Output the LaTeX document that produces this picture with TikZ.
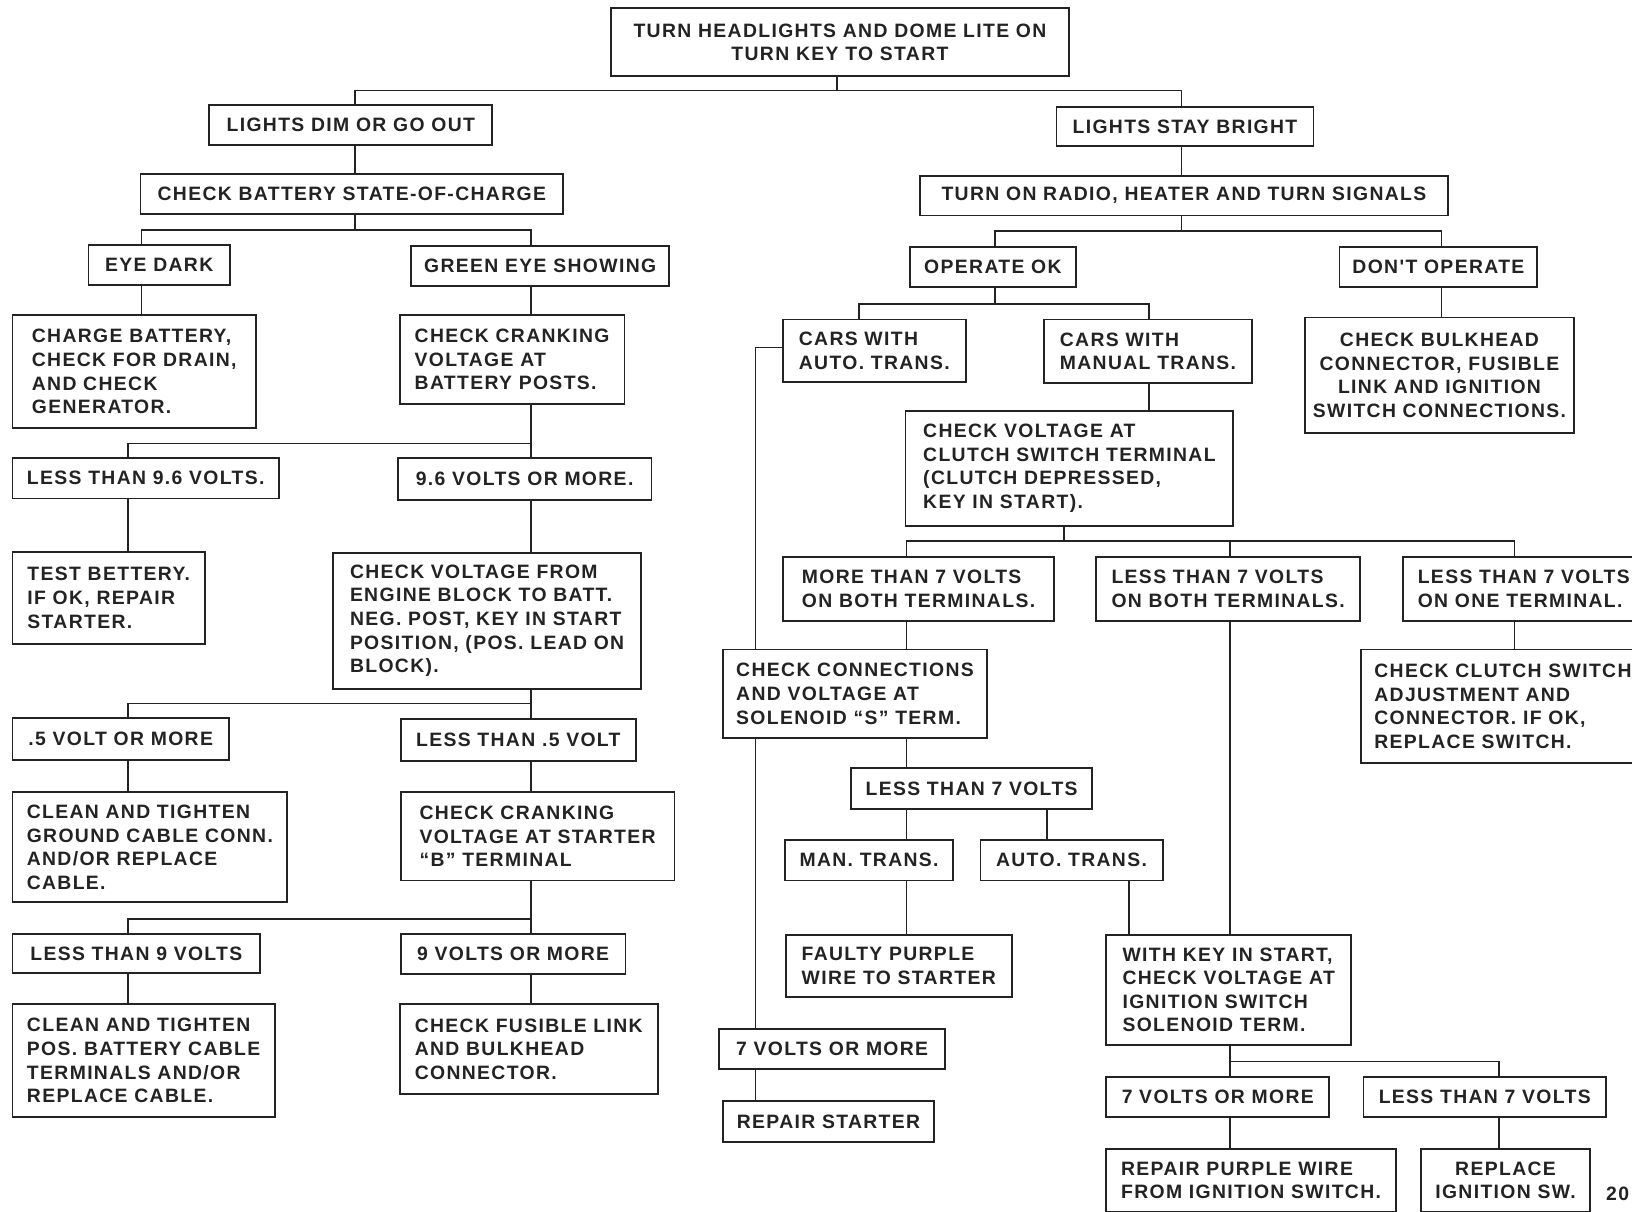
\documentclass[tikz,border=0pt]{standalone}
\usepackage{fontspec}
\newfontfamily\boxfnt[LetterSpace=7]{Liberation Sans}
\definecolor{ink}{RGB}{35,35,35}
\begin{document}
\begin{tikzpicture}[x=1pt,y=-1pt,
  bx/.style={draw=ink, line width=1.8pt, fill=white, inner sep=0pt, align=left, text=ink,
    font=\boxfnt\bfseries\fontsize{18.6}{22.7}\selectfont},
  bc/.style={bx, align=center},
  at box/.style n args={4}{at={({(#1+#3)/2},{(#2+#4)/2})}, minimum width={#3-#1}, minimum height={#4-#2}},
  ln/.style={draw=ink, line width=1.6pt}]
\useasboundingbox (0,0) rectangle (1568,1164);
\fill[white] (0,0) rectangle (1568,1164);

% ---------- boxes ----------
\node[bc, at box={587}{8}{1027}{73}] (top) {TURN HEADLIGHTS AND DOME LITE ON\\TURN KEY TO START};
\node[bx, at box={201}{101}{473}{139}] (ldim) {LIGHTS DIM OR GO OUT};
\node[bx, at box={1015}{103}{1262}{140}] (lsb) {LIGHTS STAY BRIGHT};
\node[bx, at box={135}{167}{541}{206}] (cbs) {CHECK BATTERY STATE-OF-CHARGE};
\node[bx, at box={884}{169}{1391}{207}] (radio) {TURN ON RADIO, HEATER AND TURN SIGNALS};
\node[bx, at box={85}{235}{221}{274}] (eye) {EYE DARK};
\node[bx, at box={395}{236}{643}{275}] (green) {GREEN EYE SHOWING};
\node[bx, at box={874}{237}{1034}{276}] (opok) {OPERATE OK};
\node[bx, at box={1287}{237}{1477}{276}] (dont) {DON'T OPERATE};
\node[bx, at box={12}{303}{246}{411}] (charge) {CHARGE BATTERY,\\CHECK FOR DRAIN,\\AND CHECK\\GENERATOR.};
\node[bx, at box={384}{303}{600}{388}] (crank) {CHECK CRANKING\\VOLTAGE AT\\BATTERY POSTS.};
\node[bx, at box={752}{307}{928}{367}] (carsa) {CARS WITH\\AUTO. TRANS.};
\node[bx, at box={1003}{307}{1203}{368}] (carsm) {CARS WITH\\MANUAL TRANS.};
\node[bc, at box={1254}{305}{1512}{416}] (bulk) {CHECK BULKHEAD\\CONNECTOR, FUSIBLE\\LINK AND IGNITION\\SWITCH CONNECTIONS.};
\node[bx, at box={870}{395}{1185}{505}] (clutchv) {CHECK VOLTAGE AT\\CLUTCH SWITCH TERMINAL\\(CLUTCH DEPRESSED,\\KEY IN START).};
\node[bx, at box={12}{440}{268}{479}] (lt96) {LESS THAN 9.6 VOLTS.};
\node[bx, at box={382}{440}{626}{480}] (ge96) {9.6 VOLTS OR MORE.};
\node[bx, at box={12}{530}{197}{619}] (testb) {TEST BETTERY.\\IF OK, REPAIR\\STARTER.};
\node[bx, at box={320}{531}{616}{662}] (chkvb) {CHECK VOLTAGE FROM\\ENGINE BLOCK TO BATT.\\NEG. POST, KEY IN START\\POSITION, (POS. LEAD ON\\BLOCK).};
\node[bx, at box={752}{535}{1013}{597}] (mt7b) {MORE THAN 7 VOLTS\\ON BOTH TERMINALS.};
\node[bx, at box={1053}{535}{1307}{597}] (lt7b) {LESS THAN 7 VOLTS\\ON BOTH TERMINALS.};
\node[bx, at box={1348}{535}{1580}{597}] (lt7o) {LESS THAN 7 VOLTS\\ON ONE TERMINAL.};
\node[bx, at box={1308}{624}{1580}{733}] (clutchsw) {CHECK CLUTCH SWITCH\\ADJUSTMENT AND\\CONNECTOR. IF OK,\\REPLACE SWITCH.};
\node[bx, at box={12}{690}{220}{730}] (p5) {.5 VOLT OR MORE};
\node[bx, at box={385}{691}{611}{731}] (ltp5) {LESS THAN .5 VOLT};
\node[bx, at box={818}{738}{1049}{777}] (lt7) {LESS THAN 7 VOLTS};
\node[bx, at box={12}{761}{276}{867}] (clean1) {CLEAN AND TIGHTEN\\GROUND CABLE CONN.\\AND/OR REPLACE\\CABLE.};
\node[bx, at box={385}{761}{648}{846}] (crankb) {CHECK CRANKING\\VOLTAGE AT STARTER\\“B” TERMINAL};
\node[bx, at box={754}{807}{916}{846}] (man) {MAN. TRANS.};
\node[bx, at box={942}{807}{1117}{846}] (auto) {AUTO. TRANS.};
\node[bx, at box={12}{897}{250}{935}] (lt9) {LESS THAN 9 VOLTS};
\node[bx, at box={385}{897}{601}{936}] (ge9) {9 VOLTS OR MORE};
\node[bx, at box={755}{898}{972}{958}] (faulty) {FAULTY PURPLE\\WIRE TO STARTER};
\node[bx, at box={1063}{898}{1298}{1004}] (withkey) {WITH KEY IN START,\\CHECK VOLTAGE AT\\IGNITION SWITCH\\SOLENOID TERM.};
\node[bx, at box={12}{965}{264}{1073}] (clean2) {CLEAN AND TIGHTEN\\POS. BATTERY CABLE\\TERMINALS AND/OR\\REPLACE CABLE.};
\node[bx, at box={384}{965}{632}{1051}] (fusible) {CHECK FUSIBLE LINK\\AND BULKHEAD\\CONNECTOR.};
\node[bx, at box={695}{624}{948}{709}] (chkcon) {CHECK CONNECTIONS\\AND VOLTAGE AT\\SOLENOID “S” TERM.};
\node[bx, at box={691}{989}{908}{1027}] (ge7a) {7 VOLTS OR MORE};
\node[bx, at box={1063}{1035}{1277}{1073}] (ge7b) {7 VOLTS OR MORE};
\node[bx, at box={1310}{1035}{1543}{1073}] (lt7c) {LESS THAN 7 VOLTS};
\node[bx, at box={695}{1058}{897}{1097}] (repst) {REPAIR STARTER};
\node[bx, at box={1063}{1104}{1341}{1164}] (reppw) {REPAIR PURPLE WIRE\\FROM IGNITION SWITCH.};
\node[bc, at box={1365}{1104}{1528}{1164}] (repig) {REPLACE\\IGNITION SW.};
\node[anchor=base west, text=ink, inner sep=0pt, font=\boxfnt\bfseries\fontsize{18.6}{22.7}\selectfont] (pg) at (1543,1153) {20};

% ---------- connectors: left ----------
\draw[ln] (top.south -| 804,0) -- (804,87);
\draw[ln] (ldim.north -| 341,0) |- (1135,87) -- (lsb.north -| 1135,0);
\draw[ln] (ldim.south -| 341,0) -- (cbs.north -| 341,0);
\draw[ln] (cbs.south -| 341,0) -- (341,221);
\draw[ln] (eye.north -| 136,0) |- (510,221) -- (green.north -| 510,0);
\draw[ln] (eye.south -| 136,0) -- (charge.north -| 136,0);
\draw[ln] (green.south -| 510,0) -- (crank.north -| 510,0);
\draw[ln] (crank.south -| 510,0) -- (ge96.north -| 510,0);
\draw[ln] (lt96.north -| 123,0) |- (510,426);
\draw[ln] (lt96.south -| 123,0) -- (testb.north -| 123,0);
\draw[ln] (ge96.south -| 510,0) -- (chkvb.north -| 510,0);
\draw[ln] (chkvb.south -| 510,0) -- (ltp5.north -| 510,0);
\draw[ln] (p5.north -| 123,0) |- (510,676);
\draw[ln] (p5.south -| 123,0) -- (clean1.north -| 123,0);
\draw[ln] (ltp5.south -| 510,0) -- (crankb.north -| 510,0);
\draw[ln] (crankb.south -| 510,0) -- (ge9.north -| 510,0);
\draw[ln] (lt9.north -| 123,0) |- (510,883);
\draw[ln] (lt9.south -| 123,0) -- (clean2.north -| 123,0);
\draw[ln] (ge9.south -| 510,0) -- (fusible.north -| 510,0);

% ---------- connectors: right ----------
\draw[ln] (lsb.south -| 1135,0) -- (radio.north -| 1135,0);
\draw[ln] (radio.south -| 1135,0) -- (1135,222);
\draw[ln] (opok.north -| 956,0) |- (1385,222) -- (dont.north -| 1385,0);
\draw[ln] (dont.south -| 1385,0) -- (bulk.north -| 1385,0);
\draw[ln] (opok.south -| 956,0) -- (956,292);
\draw[ln] (carsa.north -| 825,0) |- (1104,292) -- (carsm.north -| 1104,0);
\draw[ln] (carsa.west |- 0,334) -| (chkcon.north -| 726,0);
\draw[ln] (chkcon.south -| 726,0) -- (ge7a.north -| 726,0);
\draw[ln] (ge7a.south -| 726,0) -- (repst.north -| 726,0);
\draw[ln] (carsm.south -| 1104,0) -- (clutchv.north -| 1104,0);
\draw[ln] (clutchv.south -| 1022,0) -- (1022,520);
\draw[ln] (mt7b.north -| 871,0) |- (1455,520) -- (lt7o.north -| 1455,0);
\draw[ln] (1182,520) -- (lt7b.north -| 1182,0);
\draw[ln] (mt7b.south -| 871,0) -- (chkcon.north -| 871,0);
\draw[ln] (lt7b.south -| 1182,0) -- (withkey.north -| 1182,0);
\draw[ln] (lt7o.south -| 1455,0) -- (clutchsw.north -| 1455,0);
\draw[ln] (chkcon.south -| 871,0) -- (lt7.north -| 871,0);
\draw[ln] (lt7.south -| 871,0) -- (man.north -| 871,0);
\draw[ln] (lt7.south -| 1006,0) -- (auto.north -| 1006,0);
\draw[ln] (man.south -| 871,0) -- (faulty.north -| 871,0);
\draw[ln] (auto.south -| 1085,0) -- (withkey.north -| 1085,0);
\draw[ln] (withkey.south -| 1182,0) -- (ge7b.north -| 1182,0);
\draw[ln] (1182,1020) -| (lt7c.north -| 1440,0);
\draw[ln] (ge7b.south -| 1182,0) -- (reppw.north -| 1182,0);
\draw[ln] (lt7c.south -| 1440,0) -- (repig.north -| 1440,0);
\end{tikzpicture}
\end{document}
